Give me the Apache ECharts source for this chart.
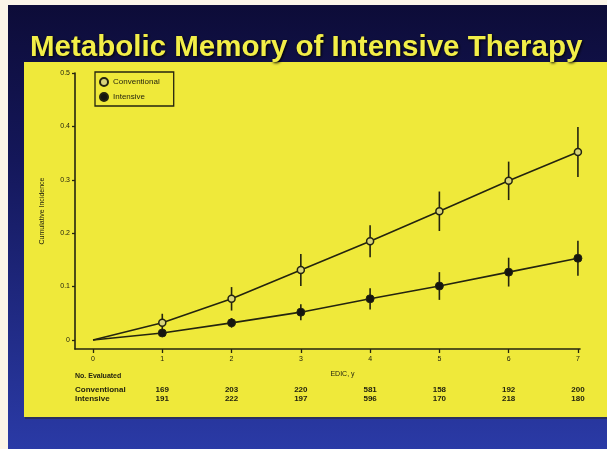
<!DOCTYPE html>
<html><head><meta charset="utf-8">
<script src="https://cdn.jsdelivr.net/npm/echarts@6/dist/echarts.min.js"></script>
<style>html,body{margin:0;padding:0;background:#fbf5e8;}#c{width:607px;height:449px;}</style>
</head><body><div id="c"></div>
<script>
var years = [0, 1, 2, 3, 4, 5, 6, 7];
var conventional = [0, 0.032, 0.077, 0.131, 0.185, 0.241, 0.298, 0.352];
var conventionalErr = [0, 0.017, 0.022, 0.03, 0.03, 0.037, 0.036, 0.047];
var intensive = [0, 0.013, 0.032, 0.052, 0.077, 0.101, 0.127, 0.153];
var intensiveErr = [0, 0.006, 0.009, 0.015, 0.02, 0.026, 0.027, 0.033];
var yTicks = [0, 0.1, 0.2, 0.3, 0.4, 0.5];
var evalConventional = ['169', '203', '220', '581', '158', '192', '200'];
var evalIntensive = ['191', '222', '197', '596', '170', '218', '180'];

var ink = '#24240f';
var font = 'Liberation Sans';

function pts(vals) {
  return years.map(function (x, i) {
    var d = { value: [x, vals[i]] };
    if (i === 0) d.symbol = 'none';
    return d;
  });
}
function errData(vals, errs) {
  var out = [];
  years.forEach(function (x, i) { if (errs[i] > 0) out.push([x, vals[i] - errs[i], vals[i] + errs[i]]); });
  return out;
}
function errRender(params, api) {
  var p1 = api.coord([api.value(0), api.value(1)]);
  var p2 = api.coord([api.value(0), api.value(2)]);
  return { type: 'line', shape: { x1: p1[0], y1: p1[1], x2: p2[0], y2: p2[1] }, style: { stroke: ink, lineWidth: 1.6 } };
}

var chart = echarts.init(document.getElementById('c'));
var baseX = { type: 'value', min: -0.26, max: 7.03, gridIndex: 0 };
chart.setOption({
  animation: false,
  graphic: [
    { type: 'rect', z: -10, shape: { x: 8, y: 5, width: 599, height: 444 },
      style: { fill: new echarts.graphic.LinearGradient(0, 0, 0, 1, [
        { offset: 0, color: '#0d0c38' }, { offset: 0.35, color: '#14175a' }, { offset: 1, color: '#2a3aa6' }]) } },
    { type: 'rect', z: -9, shape: { x: 25, y: 63, width: 582, height: 356 }, style: { fill: '#2b2a20', opacity: 0.5 } },
    { type: 'rect', z: -8, shape: { x: 24, y: 62, width: 583, height: 355 }, style: { fill: '#efe93a' } },
    { type: 'text', left: 30, top: 33, z: 5,
      style: { text: 'Metabolic Memory of Intensive Therapy', fill: '#f2ee48', font: 'bold 29.5px "Liberation Sans"',
        textShadowColor: '#000', textShadowBlur: 3, textShadowOffsetX: 1, textShadowOffsetY: 1 } },
    { type: 'text', left: 75, top: 373, style: { text: 'No. Evaluated', fill: ink, font: 'bold 7px "Liberation Sans"' } },
    { type: 'text', left: 75, top: 386, style: { text: 'Conventional', fill: ink, font: 'bold 8px "Liberation Sans"' } },
    { type: 'text', left: 75, top: 395, style: { text: 'Intensive', fill: ink, font: 'bold 8px "Liberation Sans"' } }
  ],
  grid: { left: 75, right: 27, top: 73, bottom: 100 },
  legend: {
    left: 95, top: 72, orient: 'vertical', itemWidth: 8, itemHeight: 8, itemGap: 5,
    padding: [5, 14, 4, 4], borderColor: ink, borderWidth: 1.3, icon: 'circle',
    textStyle: { fontFamily: font, fontSize: 8, color: ink },
    data: ['Conventional', 'Intensive']
  },
  xAxis: [
    Object.assign({}, baseX, {
      name: 'EDIC, y', nameLocation: 'middle', nameGap: 22,
      nameTextStyle: { fontFamily: font, fontSize: 7, color: ink, padding: [0, 0, 0, 30] },
      axisLine: { onZero: false, lineStyle: { color: ink, width: 1.6 } },
      axisTick: { customValues: years, length: 4, lineStyle: { color: ink, width: 1.3 } },
      axisLabel: { customValues: years, fontFamily: font, fontSize: 7, color: ink, margin: 7 },
      splitLine: { show: false }
    }),
    Object.assign({}, baseX, {
      position: 'bottom', offset: 37,
      axisLine: { show: false, onZero: false }, axisTick: { show: false }, splitLine: { show: false },
      axisLabel: { customValues: years.slice(1), margin: 0, fontFamily: font, fontSize: 8, fontWeight: 'bold', color: ink,
        formatter: function (v) { return evalConventional[Math.round(v) - 1]; } }
    }),
    Object.assign({}, baseX, {
      position: 'bottom', offset: 46,
      axisLine: { show: false, onZero: false }, axisTick: { show: false }, splitLine: { show: false },
      axisLabel: { customValues: years.slice(1), margin: 0, fontFamily: font, fontSize: 8, fontWeight: 'bold', color: ink,
        formatter: function (v) { return evalIntensive[Math.round(v) - 1]; } }
    })
  ],
  yAxis: {
    type: 'value', min: -0.017, max: 0.5,
    name: 'Cumulative Incidence', nameLocation: 'middle', nameGap: 29,
    nameTextStyle: { fontFamily: font, fontSize: 7, color: ink },
    axisLine: { show: true, onZero: false, lineStyle: { color: ink, width: 1.6 } },
    axisTick: { show: true, customValues: yTicks, length: 3, lineStyle: { color: ink, width: 1.3 } },
    axisLabel: { customValues: yTicks, fontFamily: font, fontSize: 7, color: ink, margin: 5,
      formatter: function (v) { return v === 0 ? '0' : v.toFixed(1); } },
    splitLine: { show: false }
  },
  series: [
    { type: 'custom', name: 'convErr', renderItem: errRender, data: errData(conventional, conventionalErr), z: 1, silent: true },
    { type: 'custom', name: 'intErr', renderItem: errRender, data: errData(intensive, intensiveErr), z: 1, silent: true },
    { type: 'line', name: 'Conventional', data: pts(conventional), z: 3,
      lineStyle: { color: ink, width: 1.6 }, symbol: 'circle', symbolSize: 7,
      itemStyle: { color: '#d8d47a', borderColor: ink, borderWidth: 1.5 } },
    { type: 'line', name: 'Intensive', data: pts(intensive), z: 3,
      lineStyle: { color: ink, width: 1.6 }, symbol: 'circle', symbolSize: 8,
      itemStyle: { color: '#151510', borderColor: ink, borderWidth: 1 } }
  ]
});
</script></body></html>
